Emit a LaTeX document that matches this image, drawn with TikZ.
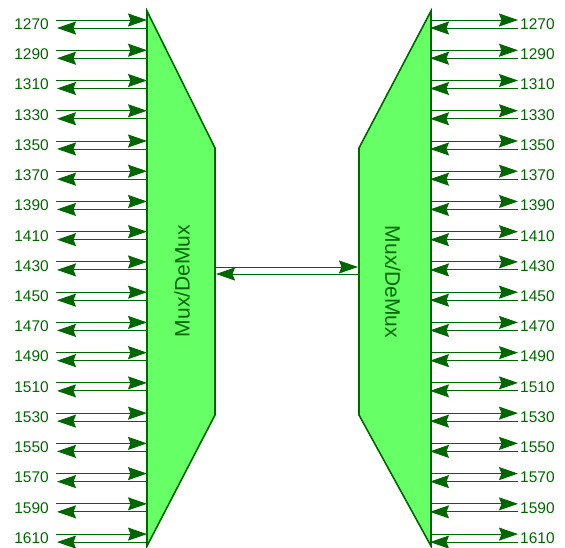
\documentclass[tikz,border=0pt]{standalone}
\usepackage{fontspec}
\setmainfont{Liberation Sans}
\usetikzlibrary{arrows.meta}
\definecolor{muxline}{HTML}{006600}
\definecolor{muxfill}{HTML}{66FF66}
\begin{document}
\begin{tikzpicture}[x=1pt,y=-1pt,
  muxbody/.style={draw=muxline,fill=muxfill,line width=1.6pt},
  chan/.style={draw=muxline,line width=0.9pt,-{Stealth[length=19pt,width=13pt,inset=2.5pt]}},
  lambda/.style={text=muxline,font=\fontsize{15.5}{17}\selectfont,inner sep=0pt},
  muxtext/.style={text=muxline,font=\fontsize{21}{24}\selectfont,inner sep=0pt}]
\useasboundingbox (0,0) rectangle (565,547);
% the two trapezoids
\draw[muxbody] (147,11) -- (215,148) -- (215,415) -- (147,546) -- cycle;
\draw[muxbody] (431,11) -- (359,148) -- (359,415) -- (431,546) -- cycle;
\node[muxtext,rotate=90] (mxa) at (182,281) {Mux/DeMux};
\node[muxtext,rotate=-90] (mxb) at (393,282) {Mux/DeMux};
% channels on both sides
\foreach \w [count=\i from 0] in {1270,1290,...,1610} {
  \pgfmathsetmacro\yc{24+30.24*\i}
  \node[lambda,anchor=east] (wa\i) at (49,\yc) {\w};
  \node[lambda,anchor=west] (wb\i) at (520,\yc) {\w};
  \coordinate (ua\i) at (56,\yc-4);  \coordinate (pa\i) at (147,\yc-4);
  \coordinate (da\i) at (57,\yc+4);  \coordinate (qa\i) at (147,\yc+4);
  \coordinate (ub\i) at (518,\yc-4); \coordinate (pb\i) at (431,\yc-4);
  \coordinate (db\i) at (518,\yc+4); \coordinate (qb\i) at (430,\yc+4);
  \draw[chan] (ua\i) -- (pa\i);
  \draw[chan] (qa\i) -- (da\i);
  \draw[chan] (pb\i) -- (ub\i);
  \draw[chan] (db\i) -- (qb\i);
}
% trunk between the muxes
\coordinate (ta) at (215,267); \coordinate (tb) at (358,267);
\coordinate (sa) at (216,274); \coordinate (sb) at (359,274);
\draw[chan] (ta) -- (tb);
\draw[chan] (sb) -- (sa);
\end{tikzpicture}
\end{document}
